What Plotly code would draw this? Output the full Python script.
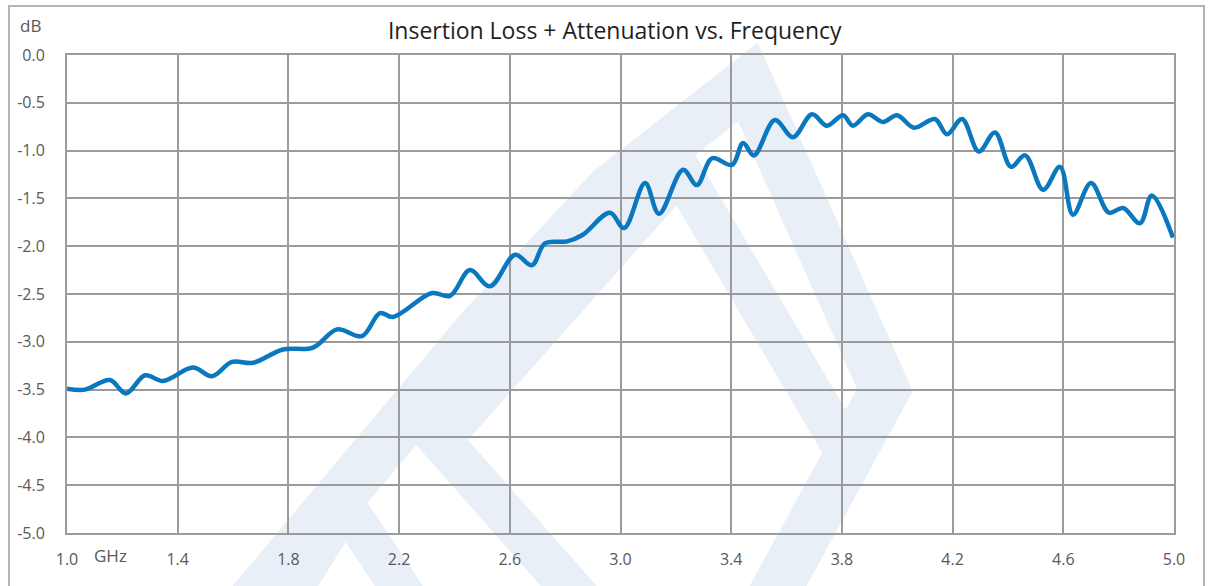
import plotly.graph_objects as go

# ---- data ----
freq_ghz = [1.000, 1.065, 1.155, 1.213, 1.282, 1.347, 1.455, 1.524, 1.596, 1.672,
            1.780, 1.889, 1.976, 2.066, 2.131, 2.178, 2.319, 2.384, 2.456, 2.528,
            2.619, 2.680, 2.727, 2.807, 2.864, 2.962, 3.013, 3.089, 3.139, 3.226,
            3.276, 3.331, 3.403, 3.443, 3.482, 3.558, 3.623, 3.692, 3.746, 3.804,
            3.840, 3.894, 3.948, 3.999, 4.061, 4.136, 4.180, 4.234, 4.295, 4.353,
            4.411, 4.462, 4.527, 4.588, 4.635, 4.700, 4.765, 4.816, 4.877, 4.920,
            4.996]
loss_db = [-3.49, -3.50, -3.40, -3.54, -3.35, -3.41, -3.27, -3.36, -3.21, -3.22,
           -3.08, -3.06, -2.87, -2.94, -2.70, -2.74, -2.49, -2.52, -2.25, -2.42,
           -2.09, -2.20, -1.97, -1.95, -1.88, -1.65, -1.81, -1.34, -1.66, -1.20,
           -1.36, -1.08, -1.15, -0.92, -1.05, -0.68, -0.86, -0.62, -0.74, -0.63,
           -0.74, -0.62, -0.70, -0.63, -0.76, -0.67, -0.83, -0.67, -1.01, -0.81,
           -1.17, -1.05, -1.41, -1.17, -1.67, -1.34, -1.65, -1.60, -1.76, -1.47,
           -1.91]

x_ticks = [1.0, 1.4, 1.8, 2.2, 2.6, 3.0, 3.4, 3.8, 4.2, 4.6, 5.0]
y_ticks = [0.0, -0.5, -1.0, -1.5, -2.0, -2.5, -3.0, -3.5, -4.0, -4.5, -5.0]
x_labels = [f"{v:.1f}" for v in x_ticks]
y_labels = [f"{v:.1f}" if v != 0 else "0.0" for v in y_ticks]

TITLE = "Insertion Loss + Attenuation vs. Frequency"

# ---- layout helpers (pixel -> paper) ----
L, R, T, B = 67, 1174, 55, 533
W, H = 1209, 586
def px(x):
    return (x - L) / (R - L)
def py(y):
    return (B - y) / (B - T)

GRID = "#9b9b9b"
TXT = "#595959"
FONT = "Open Sans, Liberation Sans, sans-serif"

fig = go.Figure()
fig.add_trace(go.Scatter(
    x=freq_ghz, y=loss_db, mode="lines",
    line=dict(color="#0a78bf", width=4.5, shape="spline", smoothing=1.0),
    hoverinfo="x+y", showlegend=False,
))

# watermark (decorative, light blue strokes)
WM = "#e8eff7"
wm_strokes = [
    ([(245, 610), (480, 330), (610, 190), (748, 82), (885, 390), (765, 610)], 50),
    ([(590, 610), (440, 440), (680, 170), (845, 450)], 42),
    ([(280, 610), (345, 505), (415, 610)], 40),
]
shapes = []
for pts, wdt in wm_strokes:
    path = "M " + " L ".join(f"{px(a):.4f},{py(b):.4f}" for a, b in pts)
    shapes.append(dict(type="path", xref="paper", yref="paper", path=path,
                       line=dict(color=WM, width=wdt), layer="below"))
# outer chart border
shapes.append(dict(type="rect", xref="paper", yref="paper",
                   x0=px(9), x1=px(1204), y0=py(640), y1=py(6),
                   line=dict(color="#b4b4b4", width=2), layer="above"))

fig.update_layout(
    width=W, height=H,
    margin=dict(l=L, r=W - R, t=T, b=H - B, autoexpand=False),
    paper_bgcolor="white", plot_bgcolor="rgba(0,0,0,0)",
    title=dict(text=TITLE, x=0.5085, xanchor="center", y=1 - 31 / H, yanchor="middle",
               font=dict(family=FONT, size=23, color="#1f1f1f")),
    shapes=shapes,
    annotations=[
        dict(text="dB", xref="paper", yref="paper", x=px(30), y=py(25),
             xanchor="center", yanchor="middle", showarrow=False,
             font=dict(family=FONT, size=17, color=TXT)),
        dict(text="GHz", xref="paper", yref="paper", x=px(110), y=py(555),
             xanchor="center", yanchor="middle", showarrow=False,
             font=dict(family=FONT, size=17, color=TXT)),
    ],
    xaxis=dict(range=[1.0, 5.0], tickvals=x_ticks, ticktext=x_labels,
               showgrid=True, gridcolor=GRID, gridwidth=2,
               showline=True, linecolor=GRID, linewidth=2, mirror=True,
               zeroline=False, ticks="", ticklabelstandoff=11,
               tickfont=dict(family=FONT, size=16, color=TXT)),
    yaxis=dict(range=[-5.0, 0.0], tickvals=y_ticks, ticktext=y_labels,
               showgrid=True, gridcolor=GRID, gridwidth=2,
               showline=True, linecolor=GRID, linewidth=2, mirror=True,
               zeroline=False, ticks="", ticklabelstandoff=17,
               tickfont=dict(family=FONT, size=16, color=TXT)),
)

fig.write_html("out.html", config={"displayModeBar": False},
               post_script="document.body.style.margin='0';document.body.style.overflow='hidden';")
